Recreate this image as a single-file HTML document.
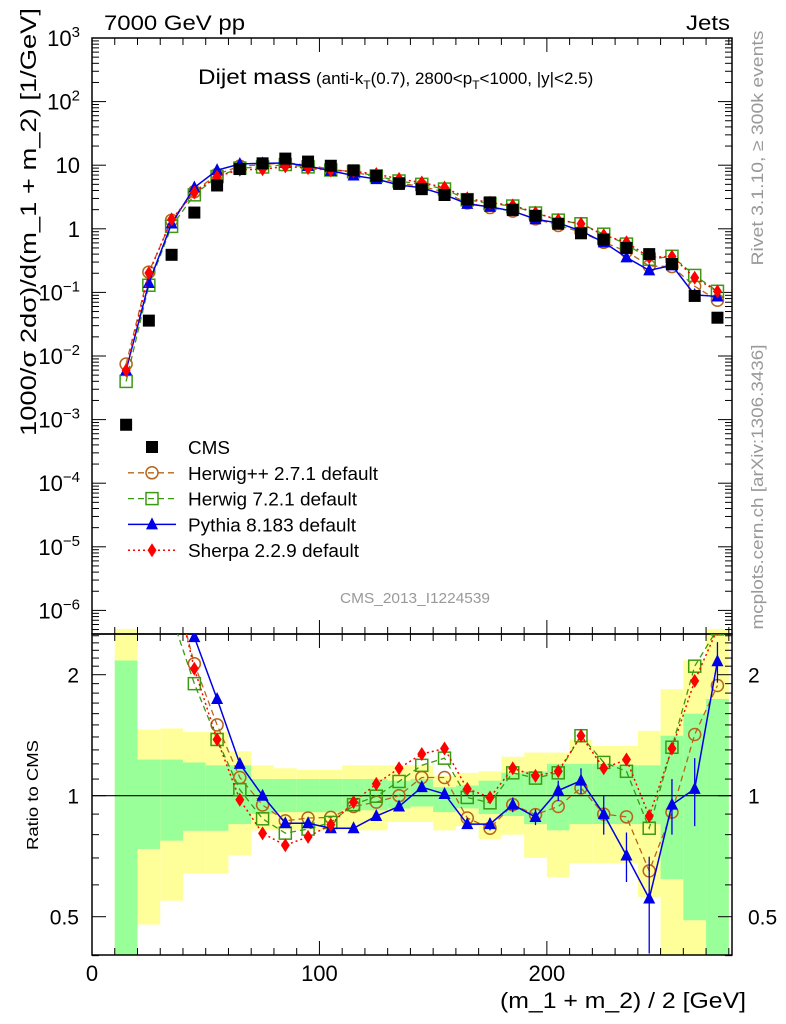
<!DOCTYPE html>
<html><head><meta charset="utf-8">
<style>
html,body{margin:0;padding:0;background:#fff;}
svg{display:block;font-family:"Liberation Sans",Arial,sans-serif;}
</style></head>
<body>
<svg id="chart" width="786" height="1024" viewBox="0 0 786 1024" xmlns="http://www.w3.org/2000/svg">
<g id="bands"></g>
<g id="grid"></g>
<g id="series"></g>
<text x="104" y="30" font-size="21" textLength="141" lengthAdjust="spacingAndGlyphs">7000 GeV pp</text>
<text x="686" y="30" font-size="21" textLength="44" lengthAdjust="spacingAndGlyphs">Jets</text>
<text x="198" y="84" font-size="21" textLength="113" lengthAdjust="spacingAndGlyphs">Dijet mass</text>
<text x="316" y="84" font-size="17">(anti-k<tspan font-size="12" dy="5">T</tspan><tspan dy="-5">(0.7), 2800&lt;p</tspan><tspan font-size="12" dy="5">T</tspan><tspan dy="-5">&lt;1000, |y|&lt;2.5)</tspan></text>
<text x="340" y="603" font-size="15" fill="#999" textLength="150" lengthAdjust="spacingAndGlyphs">CMS_2013_I1224539</text>
<text transform="translate(763,148) rotate(-90)" font-size="17" fill="#999" text-anchor="middle" textLength="235" lengthAdjust="spacingAndGlyphs">Rivet 3.1.10, ≥ 300k events</text>
<text transform="translate(763,487) rotate(-90)" font-size="17" fill="#999" text-anchor="middle" textLength="285" lengthAdjust="spacingAndGlyphs">mcplots.cern.ch [arXiv:1306.3436]</text>
<text transform="translate(36,222) rotate(-90)" font-size="22" text-anchor="middle" textLength="428" lengthAdjust="spacingAndGlyphs">1000/σ 2dσ)/d(m_1 + m_2) [1/GeV]</text>
<text transform="translate(38,795) rotate(-90)" font-size="16" text-anchor="middle" textLength="110" lengthAdjust="spacingAndGlyphs">Ratio to CMS</text>
<text x="746" y="1008" font-size="22" text-anchor="end" textLength="246" lengthAdjust="spacingAndGlyphs">(m_1 + m_2) / 2 [GeV]</text>
<g id="legend"></g>
</svg>
<script>
// ---- data ----
const xCenters = [15,25,35,45,55,65,75,85,95,105,115,125,135,145,155,165,175,185,195,205,215,225,235,245,255,265,275];
const cmsValues = [0.00083,0.036,0.39,1.8,4.8,8.7,10.7,12.7,11.4,9.8,8.3,6.8,5.2,4.2,3.4,2.9,2.6,2.0,1.6,1.2,0.85,0.68,0.5,0.40,0.28,0.088,0.040];
const ratioHerwigPP = [9.0,5.8,3.5,2.13,1.50,1.11,0.948,0.866,0.88,0.883,0.94,0.964,1.0,1.11,1.11,0.88,0.83,0.95,0.897,0.94,1.045,0.90,0.886,0.65,0.91,1.42,1.88];
const ratioHerwig7 = [4.8,3.6,2.8,1.90,1.38,1.035,0.876,0.807,0.826,0.858,0.95,0.997,1.085,1.19,1.24,0.99,0.96,1.14,1.106,1.14,1.41,1.21,1.15,0.83,1.32,2.10,2.6];
const ratioPythia = [7.2,3.9,3.1,2.48,1.74,1.20,1.0,0.854,0.854,0.83,0.83,0.89,0.94,1.05,1.01,0.85,0.85,0.95,0.885,1.03,1.09,0.90,0.71,0.555,0.95,1.04,2.16];
const pythiaErr = [0,0,0,0,0,0,0,0,0,0,0,0,0,0,0,0,0.03,0.04,0.04,0.06,0.08,0.1,0.1,0.15,0.15,0.2,0.25];
const ratioSherpa = [7.2,5.6,3.6,2.07,1.38,0.977,0.806,0.753,0.79,0.847,0.964,1.07,1.17,1.27,1.31,1.04,0.99,1.17,1.12,1.15,1.41,1.17,1.23,0.89,1.31,1.93,2.6];
const binLow = [10,20,30,40,50,60,70,80,90,100,110,120,130,140,150,160,170,180,190,200,210,220,230,240,250,260,270];
const yellowLo = [0.3,0.478,0.548,0.64,0.64,0.71,0.82,0.82,0.82,0.82,0.82,0.82,0.86,0.86,0.82,0.84,0.78,0.80,0.70,0.627,0.68,0.68,0.68,0.56,0.3,0.3,0.3];
const yellowHi = [3,1.46,1.47,1.44,1.44,1.29,1.19,1.17,1.16,1.16,1.19,1.19,1.19,1.19,1.12,1.14,1.15,1.25,1.28,1.28,1.38,1.33,1.33,1.45,1.84,2.17,3];
const greenLo = [0.3,0.737,0.773,0.818,0.818,0.85,0.90,0.91,0.91,0.91,0.92,0.92,0.93,0.94,0.91,0.93,0.90,0.89,0.85,0.82,0.85,0.85,0.85,0.85,0.62,0.49,0.3];
const greenHi = [2.17,1.23,1.23,1.21,1.19,1.19,1.10,1.10,1.10,1.10,1.10,1.10,1.09,1.10,1.05,1.06,1.09,1.14,1.15,1.20,1.20,1.20,1.19,1.19,1.41,1.6,1.74];
const xTickLabels = ["0","100","200"];
const yTickExps = ["3","2","1","0","-1","-2","-3","-4","-5","-6"];
const ratioTickLabels = ["0.5","1","2"];

// ---- geometry ----
const L=92,R=732,T=38,MB=634,RB=955;
const XMAX=281.4;
function X(v){return L+v*(R-L)/XMAX;}
function Y(v){return T+(3-Math.log10(v))*63.6;}
function RY(v){return 795.7-Math.log2(v)*121;}
const NS="http://www.w3.org/2000/svg";
function mk(tag,attrs,parent){const e=document.createElementNS(NS,tag);for(const k in attrs)e.setAttribute(k,attrs[k]);parent.appendChild(e);return e;}
const bands=document.getElementById('bands'),grid=document.getElementById('grid'),ser=document.getElementById('series'),leg=document.getElementById('legend');
function clampR(v){return Math.min(Math.max(v,0.38),2.6);}

for(let i=0;i<binLow.length;i++){
  const x0=X(binLow[i]),x1=X(binLow[i]+10);
  const yl=mk('rect',{x:x0,y:RY(clampR(yellowHi[i])),width:x1-x0,height:RY(clampR(yellowLo[i]))-RY(clampR(yellowHi[i])),fill:'#ffff99'},bands);
  
  
  const gr=mk('rect',{x:x0,y:RY(clampR(greenHi[i])),width:x1-x0,height:RY(clampR(greenLo[i]))-RY(clampR(greenHi[i])),fill:'#99ff99'},bands);
  
  
}
mk('rect',{x:L,y:RB,width:R-L,height:60,fill:'#fff'},bands);

const f1=mk('rect',{x:L,y:T,width:R-L,height:MB-T,fill:'none',stroke:'#000','stroke-width':1.5},grid);


const f2=mk('rect',{x:L,y:MB,width:R-L,height:RB-MB,fill:'none',stroke:'#000','stroke-width':1.5},grid);


const one=mk('line',{x1:L,x2:R,y1:RY(1),y2:RY(1),stroke:'#000','stroke-width':1.2},grid);


for(let v=0;v<=XMAX;v+=10){
  const big=v%100===0, h=big?14:7;
  [[T,1],[MB,-1],[MB,1],[RB,-1]].forEach(([y,d])=>mk('line',{x1:X(v),x2:X(v),y1:y,y2:y+d*h,stroke:'#000'},grid));
}
xTickLabels.forEach(s=>{const t=mk('text',{x:X(+s),y:981,'font-size':22,'text-anchor':'middle'},grid);t.textContent=s;
  
  });
yTickExps.forEach(e=>{
  const y=Y(Math.pow(10,+e));
  mk('line',{x1:L,x2:L+14,y1:y,y2:y,stroke:'#000'},grid);
  mk('line',{x1:R,x2:R-14,y1:y,y2:y,stroke:'#000'},grid);
  const t=mk('text',{x:80,y:y+8,'font-size':22,'text-anchor':'end'},grid);
  
  
  t.appendChild(document.createTextNode(+e===0?'1':'10'));
  if(+e!==1&&+e!==0){const s=mk('tspan',{'font-size':15,dy:-9},t);s.textContent=e.replace('-','−');}
  for(let m=2;m<10;m++){const v=Math.pow(10,+e-1)*m;const yy=Y(v);if(yy>MB||yy<T)continue;
    mk('line',{x1:L,x2:L+7,y1:yy,y2:yy,stroke:'#000'},grid);mk('line',{x1:R,x2:R-7,y1:yy,y2:yy,stroke:'#000'},grid);}
});
[0.4,0.5,0.6,0.7,0.8,0.9,1,1.1,1.2,1.3,1.4,1.5,1.6,1.7,1.8,1.9,2,2.1,2.2,2.3,2.4,2.5].forEach(v=>{
  const y=RY(v),h=(v===0.5||v===1||v===2)?14:7;
  mk('line',{x1:L,x2:L+h,y1:y,y2:y,stroke:'#000'},grid);mk('line',{x1:R,x2:R-h,y1:y,y2:y,stroke:'#000'},grid);
});
ratioTickLabels.forEach(s=>{
  const t1=mk('text',{x:79,y:RY(+s)+8,'font-size':21,'text-anchor':'end'},grid);t1.textContent=s;
  
  
  const t2=mk('text',{x:748,y:RY(+s)+8,'font-size':21},grid);t2.textContent=s;
  
  
});

function marker(kind,cx,cy,col,parent){
  if(kind==='circle')return mk('circle',{cx:cx,cy:cy,r:6,fill:'none',stroke:col,'stroke-width':1.5},parent);
  if(kind==='square')return mk('rect',{x:cx-6,y:cy-6,width:12,height:12,fill:'none',stroke:col,'stroke-width':1.5},parent);
  if(kind==='tri')return mk('polygon',{points:`${cx},${cy-7} ${cx-6},${cy+5} ${cx+6},${cy+5}`,fill:col},parent);
  if(kind==='diamond')return mk('polygon',{points:`${cx},${cy-7} ${cx-4.5},${cy} ${cx},${cy+7} ${cx+4.5},${cy}`,fill:col},parent);
  return mk('rect',{x:cx-6,y:cy-6,width:12,height:12,fill:col},parent);
}
const mcs=[
 {name:'herwigpp',r:ratioHerwigPP,col:'#b8651b',dash:'6,4',w:1.3,kind:'circle'},
 {name:'herwig7',r:ratioHerwig7,col:'#3a9a10',dash:'6,4',w:1.3,kind:'square'},
 {name:'pythia',r:ratioPythia,col:'#0000e6',dash:'',w:1.5,kind:'tri'},
 {name:'sherpa',r:ratioSherpa,col:'#ff0000',dash:'2,3',w:1.5,kind:'diamond'}
];
const clipM=mk('clipPath',{id:'cm'},ser);mk('rect',{x:L,y:T,width:R-L,height:MB-T},clipM);
const clipR=mk('clipPath',{id:'cr'},ser);mk('rect',{x:L,y:MB,width:R-L,height:RB-MB},clipR);
mcs.forEach(s=>{
  const gm=mk('g',{'clip-path':'url(#cm)'},ser);
  
  
  const gr=mk('g',{'clip-path':'url(#cr)'},ser);
  
  
  const pm=xCenters.map((x,i)=>`${X(x)},${Y(cmsValues[i]*s.r[i])}`).join(' ');
  const pr=xCenters.map((x,i)=>`${X(x)},${RY(s.r[i])}`).join(' ');
  mk('polyline',{points:pm,fill:'none',stroke:s.col,'stroke-width':s.w,'stroke-dasharray':s.dash},gm);
  mk('polyline',{points:pr,fill:'none',stroke:s.col,'stroke-width':s.w,'stroke-dasharray':s.dash},gr);
  xCenters.forEach((x,i)=>{
    const a=marker(s.kind,X(x),Y(cmsValues[i]*s.r[i]),s.col,gm);
    
    
    if(s.name==='pythia'&&pythiaErr[i]>0){
      const e=mk('line',{x1:X(x),x2:X(x),y1:RY(s.r[i]+pythiaErr[i]),y2:RY(Math.max(s.r[i]-pythiaErr[i],0.3)),stroke:s.col,'stroke-width':1.3},gr);
      
      
    }
    const b=marker(s.kind,X(x),RY(s.r[i]),s.col,gr);
    
    
  });
});
xCenters.forEach((x,i)=>{
  const p=marker('cms',X(x),Y(cmsValues[i]),'#000',ser);
  
  
});

const legendLabels=['CMS','Herwig++ 2.7.1 default','Herwig 7.2.1 default','Pythia 8.183 default','Sherpa 2.2.9 default'];
const legendWidths=[42,190,169,168,171];
legendLabels.forEach((lab,i)=>{
  const y=447+i*25.8;
  const g=mk('g',{},leg);
  
  
  if(i>0){const s=mcs[i-1];mk('line',{x1:128,x2:176,y1:y,y2:y,stroke:s.col,'stroke-width':s.w,'stroke-dasharray':s.dash},g);marker(s.kind,152,y,s.col,g);}
  else marker('cms',152,y,'#000',g);
  const t=mk('text',{x:188,y:y+7,'font-size':18.5,textLength:legendWidths[i],lengthAdjust:'spacingAndGlyphs'},g);t.textContent=lab;
});
</script>
</body></html>
